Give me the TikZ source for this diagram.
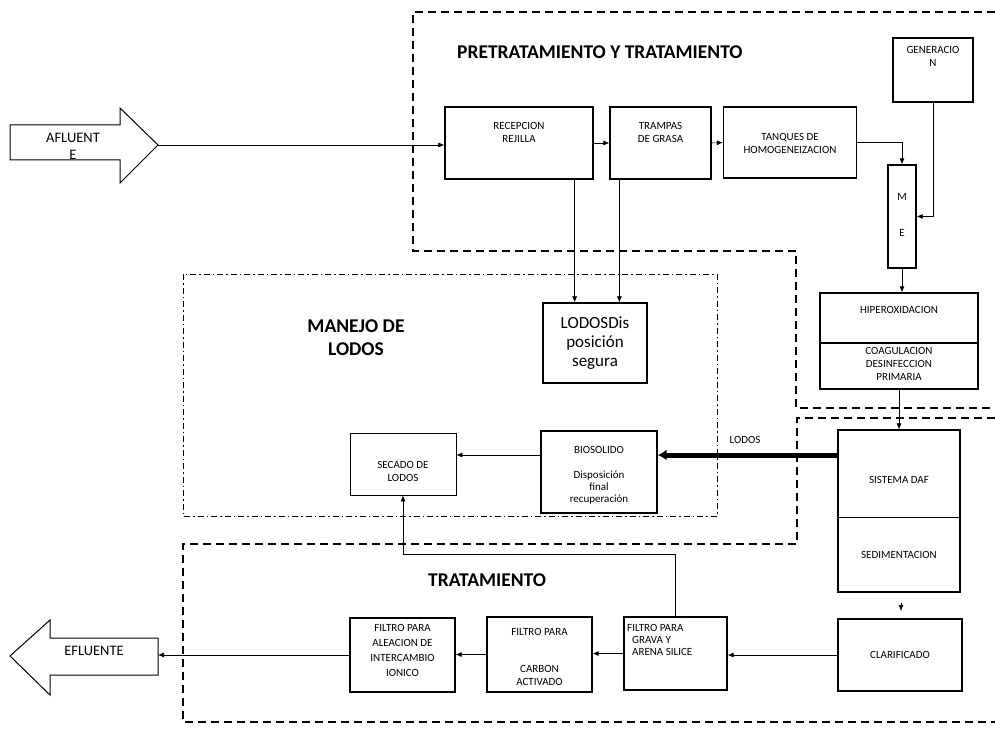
\documentclass[tikz,border=0pt]{standalone}
\usepackage{fontspec}
\setmainfont{Carlito}
\usetikzlibrary{arrows.meta,calc}
\begin{document}
\begin{tikzpicture}[x=1pt,y=-1pt,
  box/.style={draw,line width=1.3pt,inner sep=0pt},
  thinbox/.style={draw,line width=0.8pt,inner sep=0pt},
  conn/.style={line width=0.6pt,-{Latex[length=6pt,width=5pt]}},
  txt/.style={font=\fontsize{11}{13}\selectfont,align=center,inner sep=0pt},
  bigtxt/.style={font=\fontsize{17}{19}\selectfont,align=center,inner sep=0pt},
  title/.style={font=\bfseries\fontsize{19.5}{23}\selectfont,align=center,inner sep=0pt},
  zone/.style={dash pattern=on 8pt off 5pt,line width=1.3pt},
  zonedd/.style={dash pattern=on 6pt off 3pt on 1.5pt off 3pt,line width=1pt},
  bigarrow/.style={draw,line width=1pt,line join=miter},
  arrtxt/.style={font=\fontsize{14.5}{17}\selectfont,align=center,inner sep=0pt}]
\useasboundingbox (0,0) rectangle (995,735);

% zones
\draw[zone] (995,12) -- (413,12) -- (413,251) -- (796,251) -- (796,408) -- (995,408);
\draw[zone] (995,418) -- (797,418) -- (797,544) -- (183,544) -- (183,722) -- (995,722);
\draw[zonedd] (183,274) rectangle (717,516);

% titles
\node[title,anchor=west] (t1) at (457,52) {PRETRATAMIENTO Y TRATAMIENTO};
\node[title] (t2) at (356,338) {MANEJO DE\\LODOS};
\node[title,anchor=west] (t3) at (428,580) {TRATAMIENTO};

% in / out arrows
\draw[bigarrow] (10,125) -- (120,125) -- (120,108) -- (158,145) -- (120,183) -- (120,160) -- (10,160) -- cycle;
\coordinate (afltip) at (158,145);
\node[arrtxt] (aflT) at (73,146) {AFLUENT\\E};
\draw[bigarrow] (158,638) -- (50,638) -- (50,620) -- (10,656) -- (50,695) -- (50,675) -- (158,675) -- cycle;
\coordinate (efltail) at (158,656);
\node[arrtxt] (eflT) at (94,651) {EFLUENTE};

% boxes
\node[box,minimum width=148pt,minimum height=72pt] (rec) at (519,143) {};
\node[box,minimum width=101pt,minimum height=72pt] (tra) at (660.5,143) {};
\node[box,minimum width=133pt,minimum height=71pt] (tan) at (790,142.5) {};
\node[box,minimum width=80pt,minimum height=64pt] (gen) at (933,70) {};
\node[box,minimum width=28pt,minimum height=103pt] (me) at (902,216.5) {};
\node[box,minimum width=158pt,minimum height=96pt] (hip) at (899,341) {};
\node[box,minimum width=122pt,minimum height=162pt] (daf) at (899,511) {};
\node[box,minimum width=124pt,minimum height=72pt] (cla) at (900,655) {};
\node[box,minimum width=103pt,minimum height=73pt] (gra) at (675.5,653.5) {};
\node[box,minimum width=105pt,minimum height=75pt] (car) at (539.5,654.5) {};
\node[box,minimum width=105pt,minimum height=74pt] (ale) at (402.5,655) {};
\node[box,minimum width=104pt,minimum height=80pt] (lod) at (595,343) {};
\node[box,minimum width=116pt,minimum height=82pt] (bio) at (599,472) {};
\node[thinbox,minimum width=106pt,minimum height=62pt] (sec) at (403,464) {};
\draw[line width=1.3pt] (hip.west |- 0,343) -- (hip.east |- 0,343);
\draw[line width=1pt] (daf.west |- 0,517) -- (daf.east |- 0,517);

% box texts
\node[txt] (recT) at (519,132) {RECEPCION\\REJILLA};
\node[txt] (traT) at (660.5,132) {TRAMPAS\\DE GRASA};
\node[txt] (tanT) at (790,143) {TANQUES DE\\HOMOGENEIZACION};
\node[txt] (genT) at (933,56) {GENERACIO\\N};
\node[txt] (meM) at (902,197) {M};
\node[txt] (meE) at (902,233) {E};
\node[txt] (hipT) at (899,310) {HIPEROXIDACION};
\node[txt] (coaT) at (899,364) {COAGULACION\\DESINFECCION\\PRIMARIA};
\node[txt] (dafT) at (899,480) {SISTEMA DAF};
\node[txt] (sedT) at (899,555) {SEDIMENTACION};
\node[txt] (claT) at (900,655) {CLARIFICADO};
\node[txt,align=left,anchor=north west] (graT) at (627,624) {FILTRO PARA\\[-1pt]\ \ GRAVA Y\\[-1pt]\ \ ARENA SILICE};
\node[txt] (carT1) at (539.5,632) {FILTRO PARA};
\node[txt] (carT2) at (539.5,675) {CARBON\\ACTIVADO};
\node[txt,font=\fontsize{11}{15}\selectfont] (aleT) at (402.5,650) {FILTRO PARA\\ALEACION DE\\INTERCAMBIO\\IONICO};
\node[bigtxt] (lodT) at (595,343) {LODOSDis\\posición\\segura};
\node[txt] (bioT1) at (599,450) {BIOSOLIDO};
\node[txt,font=\fontsize{11}{12}\selectfont] (bioT2) at (599,488) {Disposición\\final\\recuperación};
\node[txt] (secT) at (403,471) {SECADO DE\\LODOS};
\node[font=\fontsize{11}{13}\selectfont,inner sep=0pt] (lodosL) at (745,440) {LODOS};

% connectors
\draw[conn] (afltip) -- (afltip -| rec.west);
\draw[conn] (rec.east) -- (tra.west);
\draw[conn] (tra.east) -- (tan.west);
\draw[conn] (tan.east) -| (me.north);
\draw[conn] (gen.south) |- (me.east);
\draw[conn] (me.south) -- (hip.north -| me.south);
\draw[conn] (hip.south) -- (daf.north);
\coordinate (sedA) at (901,603);
\coordinate (sedB) at (901,611);
\draw[conn] (sedA) -- (sedB);
\draw[conn] (cla.west) -- (cla.west -| gra.east);
\draw[conn] (gra.west) -- (gra.west -| car.east);
\draw[conn] (car.west) -- (car.west -| ale.east);
\draw[conn] (ale.west) -- (ale.west -| efltail);
\draw[conn] (gra.north) -- ++(0,-62) -| (sec.south);
\coordinate (recD) at ($(rec.south east)+(-19,0)$);
\coordinate (traD) at ($(tra.south west)+(10,0)$);
\draw[conn] (recD) -- (recD |- lod.north);
\draw[conn] (traD) -- (traD |- lod.north);
\coordinate (dafL) at ($(daf.west)+(0,-56)$);
\draw[line width=5pt,-{Latex[length=9pt,width=11pt]}] (dafL) -- (dafL -| bio.east);
\coordinate (bioL) at ($(bio.west)+(0,-17)$);
\draw[conn] (bioL) -- (bioL -| sec.east);
\end{tikzpicture}
\end{document}
